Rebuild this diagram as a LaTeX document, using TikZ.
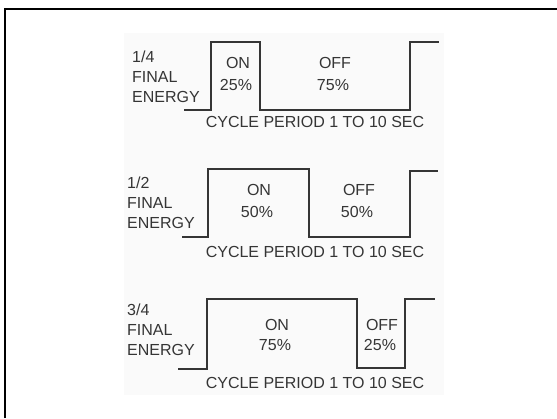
\documentclass[tikz,border=0pt]{standalone}
\usepackage{fontspec}
\setmainfont{Liberation Sans}
\definecolor{ink}{HTML}{353535}
\begin{document}
\begin{tikzpicture}[x=1pt,y=-1pt,
    wave/.style={line width=1.8pt, ink, line join=miter},
    word/.style={inner sep=0pt, text=ink, font=\fontsize{16}{20}\selectfont},
    pct/.style={word, text depth=0pt},
    side/.style={word, align=left, anchor=west}]
    \useasboundingbox (0,0) rectangle (557,418);

    % frame, only left and top edges show
    \draw[line width=2pt] (5,418) -- (5,9) -- (557,9);
    % faint scan background
    \fill[black!2] (124,33) rectangle (444,395);

    % 1/4 final energy: on 25%, off 75%
    \draw[wave] (184,110) -- (211,110) -- (211,42) -- (260,42) -- (260,110)
        -- (410,110) -- (410,42) -- (439,42);
    \node[side] (lblA) at (132,77) {1/4\\FINAL\\ENERGY};
    \node[pct] (onA) at (238,63) {ON};
    \node[pct] (onpA) at (236,85) {25\%};
    \node[pct] (offA) at (335,63) {OFF};
    \node[pct] (offpA) at (333,85) {75\%};
    \node[pct] (cycA) at (315,122) {CYCLE PERIOD 1 TO 10 SEC};

    % 1/2 final energy: on 50%, off 50%
    \draw[wave] (182,237) -- (208,237) -- (208,169) -- (309,169) -- (309,237)
        -- (410,237) -- (410,171) -- (438,171);
    \node[side] (lblB) at (127,203) {1/2\\FINAL\\ENERGY};
    \node[pct] (onB) at (259,190) {ON};
    \node[pct] (onpB) at (257,212) {50\%};
    \node[pct] (offB) at (359,190) {OFF};
    \node[pct] (offpB) at (357,212) {50\%};
    \node[pct] (cycB) at (315,252) {CYCLE PERIOD 1 TO 10 SEC};

    % 3/4 final energy: on 75%, off 25%
    \draw[wave] (178,369) -- (207,369) -- (207,299) -- (357,299) -- (357,368)
        -- (405,368) -- (405,299) -- (435,299);
    \node[side] (lblC) at (127,330) {3/4\\FINAL\\ENERGY};
    \node[pct] (onC) at (277,325) {ON};
    \node[pct] (onpC) at (275,345) {75\%};
    \node[pct] (offC) at (382,325) {OFF};
    \node[pct] (offpC) at (380,345) {25\%};
    \node[pct] (cycC) at (315,383) {CYCLE PERIOD 1 TO 10 SEC};
\end{tikzpicture}
\end{document}
